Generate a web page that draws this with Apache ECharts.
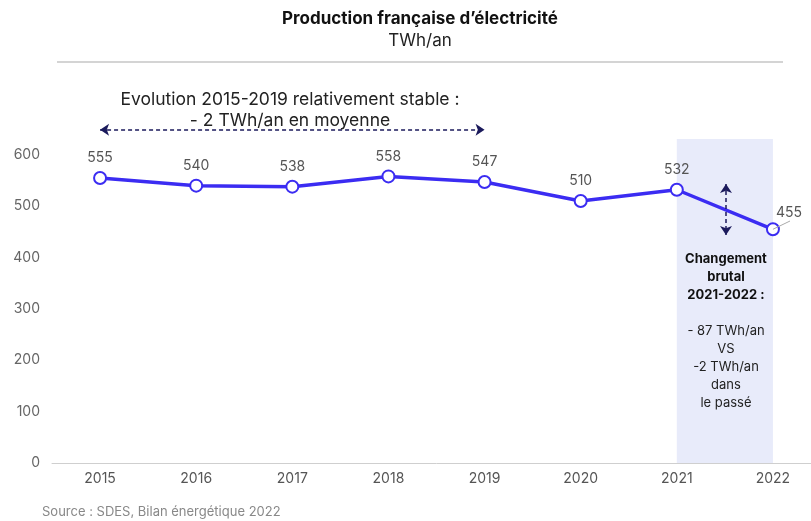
<!DOCTYPE html>
<html><head><meta charset="utf-8">
<script src="https://cdn.jsdelivr.net/npm/echarts@6/dist/echarts.min.js"></script>
<style>html,body{margin:0;padding:0;background:#fff;overflow:hidden;width:811px;height:521px}#c{width:821px;height:521px}</style>
</head><body><div id="c"></div>
<script>
const years = ['2015','2016','2017','2018','2019','2020','2021','2022'];
const production = [555, 540, 538, 558, 547, 510, 532, 455];
const yTicks = [0, 100, 200, 300, 400, 500, 600];
const titleText = 'Production française d\u2019électricité';
const unitText = 'TWh/an';
const noteTop = ['Evolution 2015-2019 relativement stable :', '- 2 TWh/an en moyenne'];
const noteBoldLines = ['Changement', 'brutal', '2021-2022 :'];
const noteLines = ['- 87 TWh/an', 'VS', '-2 TWh/an', 'dans', 'le passé'];
const sourceText = 'Source : SDES, Bilan énergétique 2022';

const FONT = 'Inter, "Noto Sans", sans-serif';
const chart = echarts.init(document.getElementById('c'), null, {renderer: 'canvas'});
const navy = '#1b1a5c';
const lastTick = yTicks[yTicks.length - 1];
const dataItems = production.map((v, i) => {
  if (i === production.length - 1) {
    return {value: v, label: {position: 'top', offset: [16, 4]}};
  }
  return v;
});
chart.setOption({
  animation: false,
  grid: {left: 52, right: 0, top: 124, bottom: 58},
  xAxis: {
    type: 'category', data: years, boundaryGap: true,
    axisLine: {lineStyle: {color: '#cfcfcf', width: 1}},
    axisTick: {show: false},
    axisLabel: {color: '#555', fontSize: 14, fontFamily: FONT, margin: 9}
  },
  yAxis: {
    type: 'value', min: yTicks[0], max: 660, interval: 100,
    splitLine: {show: false},
    axisLine: {show: false}, axisTick: {show: false},
    axisLabel: {color: '#666', fontSize: 14, fontFamily: FONT, margin: 12,
      formatter: v => (v <= lastTick ? String(v) : '')}
  },
  series: [{
    type: 'line', data: dataItems,
    symbol: 'emptyCircle', symbolSize: 12,
    lineStyle: {color: '#3b2cf2', width: 3.5},
    itemStyle: {color: '#3b2cf2', borderWidth: 4},
    label: {show: true, position: 'top', distance: 6, color: '#555', fontSize: 14, fontFamily: FONT},
    markArea: {
      silent: true,
      itemStyle: {color: '#e8ebfa'},
      data: [[{xAxis: '2021', yAxis: 631}, {xAxis: '2022', yAxis: 0}]]
    },
    markLine: {
      silent: true, symbol: ['arrow', 'arrow'], symbolSize: [9, 9],
      label: {show: false},
      lineStyle: {color: navy, type: [4, 3], width: 1.5},
      data: [
        [{coord: ['2015', 649]}, {coord: ['2019', 649]}],
        [{x: 726, y: 184}, {x: 726, y: 235}],
        [{coord: ['2022', production[production.length - 1]], symbol: 'none', lineStyle: {color: '#aaa', type: 'solid', width: 1}},
         {x: 790, y: 221, symbol: 'none'}]
      ]
    },
    z: 3
  }],
  graphic: [
    {type: 'text', x: 420, y: 10, z: 100, style: {text: titleText, font: 'bold 17px ' + FONT, fill: '#111', align: 'center'}},
    {type: 'text', x: 420, y: 32, z: 100, style: {text: unitText, font: '17px ' + FONT, fill: '#222', align: 'center'}},
    {type: 'line', z: 100, shape: {x1: 57, y1: 62, x2: 783, y2: 62}, style: {stroke: '#aaa', lineWidth: 1.2}},
    {type: 'text', x: 290, y: 89, z: 100, style: {text: noteTop.join('\n'), font: '17.5px ' + FONT, fill: '#222', align: 'center', lineHeight: 21}},
    {type: 'text', x: 726, y: 250, z: 100, style: {text: noteBoldLines.join('\n'), font: 'bold 13px ' + FONT, fill: '#111', align: 'center', lineHeight: 18}},
    {type: 'text', x: 726, y: 322, z: 100, style: {text: noteLines.join('\n'), font: '13px ' + FONT, fill: '#222', align: 'center', lineHeight: 18}},
    {type: 'text', x: 42, y: 506, z: 100, style: {text: sourceText, font: '13px ' + FONT, fill: '#888'}}
  ]
});
</script></body></html>
